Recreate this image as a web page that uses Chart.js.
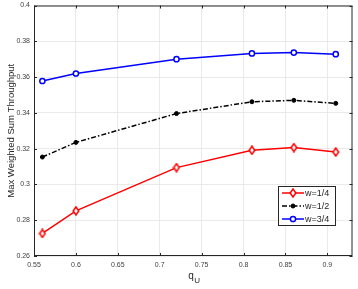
<!DOCTYPE html>
<html><head><meta charset="utf-8">
<script src="https://cdn.jsdelivr.net/npm/chart.js@4"></script>
<style>html,body{margin:0;padding:0;background:#fff;}#w{width:358px;height:289px;}</style>
</head><body><div id="w"><canvas id="c"></canvas></div>
<script>
const qU = [0.56, 0.60, 0.72, 0.81, 0.86, 0.91];
const w14 = [0.2726, 0.2852, 0.3094, 0.3191, 0.3206, 0.3181];
const w12 = [0.3153, 0.3235, 0.3396, 0.3462, 0.3470, 0.3453];
const w34 = [0.3578, 0.3620, 0.3700, 0.3732, 0.3737, 0.3728];
const xTicks = [0.55, 0.6, 0.65, 0.7, 0.75, 0.8, 0.85, 0.9];
const yTicks = [0.26, 0.28, 0.3, 0.32, 0.34, 0.36, 0.38, 0.4];
const labels = ['w=1/4', 'w=1/2', 'w=3/4'];
const FONT = 'Liberation Sans, Arial, sans-serif';
const pts = a => a.map((v, i) => ({x: qU[i], y: v}));

const diamond = (() => {
  const c = document.createElement('canvas'); c.width = 8; c.height = 10;
  const g = c.getContext('2d');
  g.strokeStyle = '#ff0000'; g.fillStyle = '#fff'; g.lineWidth = 1.5;
  g.beginPath(); g.moveTo(4, 1); g.lineTo(6.8, 5); g.lineTo(4, 9); g.lineTo(1.2, 5); g.closePath();
  g.fill(); g.stroke();
  return c;
})();

const boxPlugin = {
  id: 'box',
  afterDraw(chart) {
    const {ctx, chartArea: a} = chart;
    ctx.save();
    ctx.strokeStyle = '#262626';
    ctx.lineWidth = 1;
    ctx.strokeRect(a.left + 0.5, a.top + 0.5, a.right - a.left - 1, a.bottom - a.top - 1);
    const xs = chart.scales.x, ys = chart.scales.y;
    ctx.beginPath();
    xTicks.forEach(t => { const px = Math.round(xs.getPixelForValue(t)) + 0.5;
      ctx.moveTo(px, a.bottom); ctx.lineTo(px, a.bottom - 3);
      ctx.moveTo(px, a.top); ctx.lineTo(px, a.top + 3); });
    yTicks.forEach(t => { const py = Math.round(ys.getPixelForValue(t)) + 0.5;
      ctx.moveTo(a.left, py); ctx.lineTo(a.left + 3, py);
      ctx.moveTo(a.right, py); ctx.lineTo(a.right - 3, py); });
    ctx.stroke();
    // x title with subscript
    ctx.fillStyle = '#262626';
    ctx.textBaseline = 'alphabetic';
    ctx.font = '10px ' + FONT;
    const cx = (a.left + a.right) / 2;
    ctx.textAlign = 'left';
    ctx.fillText('q', cx - 5, 279);
    ctx.font = '8px ' + FONT;
    ctx.fillText('U', cx + 1, 283);
    // legend
    const lx = 278, ly = 186, lw = 57, lh = 39;
    ctx.fillStyle = '#fff';
    ctx.fillRect(lx, ly, lw, lh);
    ctx.strokeStyle = '#262626';
    ctx.strokeRect(lx + 0.5, ly + 0.5, lw, lh);
    chart.data.datasets.forEach((ds, i) => {
      const y = ly + 7 + i * 13;
      ctx.save();
      ctx.strokeStyle = ds.borderColor;
      ctx.lineWidth = ds.borderWidth;
      ctx.setLineDash(ds.borderDash || []);
      ctx.beginPath(); ctx.moveTo(lx + 4, y); ctx.lineTo(lx + 26, y); ctx.stroke();
      ctx.restore();
      ctx.save();
      if (typeof ds.pointStyle !== 'string') {
        ctx.drawImage(ds.pointStyle, lx + 15 - ds.pointStyle.width / 2, y - ds.pointStyle.height / 2);
      } else {
        ctx.strokeStyle = ds.borderColor; ctx.fillStyle = ds.pointBackgroundColor; ctx.lineWidth = ds.pointBorderWidth;
        ctx.beginPath();
        ctx.arc(lx + 15, y, ds.pointRadius, 0, Math.PI * 2);
        ctx.fill(); ctx.stroke();
      }
      ctx.restore();
      ctx.fillStyle = '#262626';
      ctx.font = '9px ' + FONT;
      ctx.textAlign = 'left'; ctx.textBaseline = 'middle';
      ctx.fillText(ds.label, lx + 27, y + 0.5);
    });
    ctx.restore();
  }
};

new Chart(document.getElementById('c'), {
  type: 'line',
  data: { datasets: [
    { label: labels[0], data: pts(w14), borderColor: '#ff0000', backgroundColor: '#ff0000', borderWidth: 1.5,
      pointStyle: diamond, pointRadius: 4, pointBorderWidth: 1.5, pointBackgroundColor: '#fff' },
    { label: labels[1], data: pts(w12), borderColor: '#000000', backgroundColor: '#000', borderWidth: 1.5, borderDash: [5, 2, 1.5, 2],
      pointStyle: 'circle', pointRadius: 2, pointBorderWidth: 1, pointBackgroundColor: '#000' },
    { label: labels[2], data: pts(w34), borderColor: '#0000ff', backgroundColor: '#0000ff', borderWidth: 1.5,
      pointStyle: 'circle', pointRadius: 2.6, pointBorderWidth: 1.5, pointBackgroundColor: '#fff' }
  ]},
  options: {
    responsive: true, maintainAspectRatio: false, animation: false,
    layout: { padding: { top: 4, right: 5, left: 0, bottom: 0 } },
    plugins: { legend: { display: false }, tooltip: { enabled: false } },
    elements: { line: { tension: 0 } },
    scales: {
      x: { type: 'linear', min: 0.55, max: 0.93,
        afterBuildTicks: s => { s.ticks = xTicks.map(v => ({value: v})); },
        afterFit: s => { s.height = 33; s.paddingLeft = 0; s.paddingRight = 0; },
        grid: { color: '#e5e5e5', drawTicks: false, lineWidth: 0.8 },
        border: { display: false },
        ticks: { color: '#404040', font: { size: 7, family: FONT }, padding: 5, maxRotation: 0,
          callback: v => String(+v.toFixed(2)) } },
      y: { min: 0.26, max: 0.4,
        afterBuildTicks: s => { s.ticks = yTicks.map(v => ({value: v})); },
        afterFit: s => { s.width = 34; s.paddingTop = 0; s.paddingBottom = 0; },
        grid: { color: '#e5e5e5', drawTicks: false, lineWidth: 0.8 },
        border: { display: false },
        title: { display: true, text: 'Max Weighted Sum Throughput', color: '#262626', font: { size: 9.5, family: FONT }, padding: { top: 6, bottom: 0 } },
        ticks: { color: '#404040', font: { size: 7, family: FONT }, padding: 4,
          callback: v => String(+v.toFixed(2)) } }
    }
  },
  plugins: [boxPlugin]
});
</script></body></html>
